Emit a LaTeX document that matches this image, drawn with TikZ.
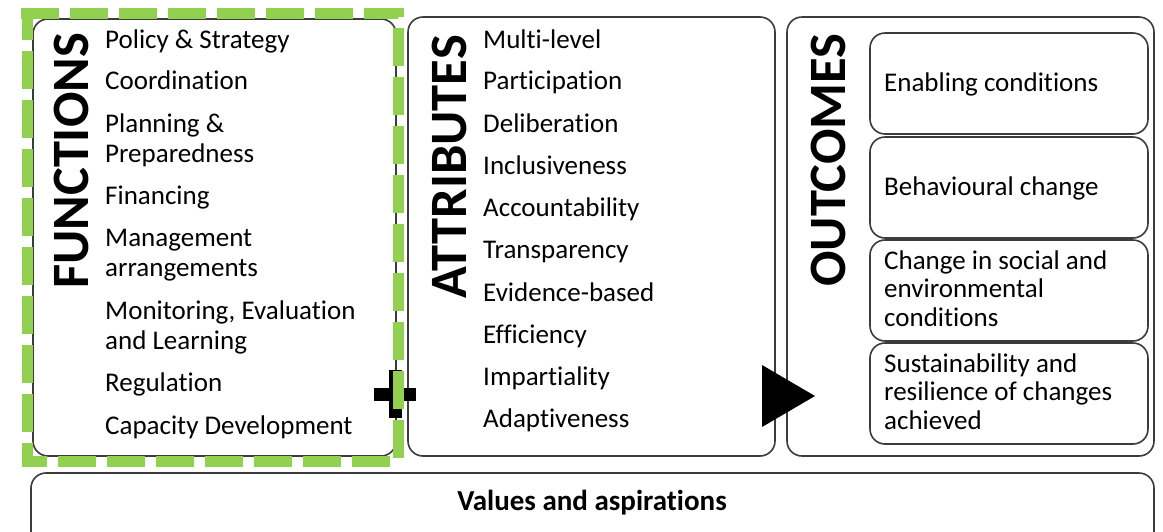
\documentclass[tikz,border=0pt]{standalone}
\usepackage{fontspec}
\setmainfont{Carlito}[Ligatures=NoCommon]
\definecolor{leafgreen}{HTML}{92D050}
\definecolor{boxgray}{HTML}{3C3C3C}
\begin{document}
\begin{tikzpicture}[x=1pt,y=-1pt,
  box/.style={draw=boxgray,line width=1.6pt,rounded corners=15pt},
  item/.style={anchor=base west,align=left,inner sep=0pt,font=\fontsize{27}{30}\selectfont},
  heading/.style={rotate=90,inner sep=0pt,font=\fontsize{52.5}{52.5}\selectfont\bfseries}]
\clip (0,0) rectangle (1163,531);
\fill[white] (0,0) rectangle (1163,531);
\draw[box] (33,19) rectangle (396,456);
\draw[box] (408,17) rectangle (775,456);
\draw[box] (787,17) rectangle (1154,456);
\draw[box] (31,473) rectangle (1154,560);
\foreach \y in {33,137,240,343}
{
    \draw[box] (870,\y) rectangle (1148,\y+101);
}
\node[heading] (functions) at (71,161) {FUNCTIONS};
\node[heading] (attributes) at (449,167) {ATTRIBUTES};
\node[heading] (outcomes) at (828,160) {OUTCOMES};
\foreach \y/\ytext [count=\i] in {40/Policy \& Strategy, 81/Coordination, 154/Planning \&\\Preparedness,
  196/Financing, 268/Management\\arrangements, 341/{Monitoring, Evaluation\\and Learning},
  383/Regulation, 426/Capacity Development}
{
    \node[item] (func\i) at (105,\y+8) {\ytext};
}
\foreach \y/\ytext [count=\i] in {40/Multi-level, 81/Participation, 124/Deliberation, 166/Inclusiveness,
  208/Accountability, 250/Transparency, 293/Evidence-based, 335/Efficiency, 377/Impartiality, 419/Adaptiveness}
{
    \node[item] (attr\i) at (483,\y+8) {\ytext};
}
\foreach \y/\ytext [count=\i] in {83/Enabling conditions, 187/Behavioural change,
  318/Change in social and\\environmental\\conditions, 421/Sustainability and\\resilience of changes\\achieved}
{
    \node[item,font=\fontsize{27}{28.5}\selectfont] (outc\i) at (884,\y+8) {\ytext};
}
\node[font=\fontsize{29}{30}\selectfont\bfseries] (values) at (592,503) {Values and aspirations};
\fill (374,387.5) rectangle (416,400.5);
\fill (388.5,370) rectangle (401.5,418);
\fill (762,365) -- (815,396) -- (762,427) -- cycle;
\draw[leafgreen,line width=11pt,dash pattern=on 38pt off 11pt] (21,13) -- (398,13) -- (398,461) -- (27,461) -- (27,13);
\end{tikzpicture}
\end{document}
